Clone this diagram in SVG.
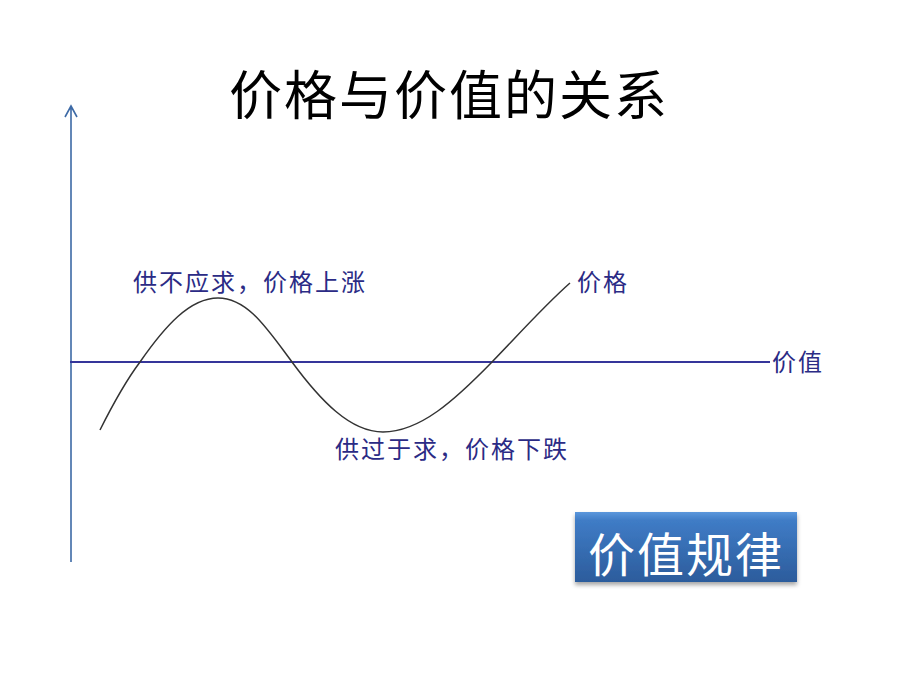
<svg xmlns="http://www.w3.org/2000/svg" width="900" height="675" viewBox="0 0 900 675">
<defs>
<style>
.lbl{font-family:"Noto Sans CJK SC","Noto Sans",sans-serif;fill:#2b2b85;font-size:24px;letter-spacing:2px}
.ttl{font-family:"Noto Sans CJK SC",sans-serif;fill:#000;font-size:53px;letter-spacing:2px}
.btn{font-family:"Noto Sans CJK SC",sans-serif;fill:#fff;font-size:47px;letter-spacing:2px}
</style>
<linearGradient id="bg" x1="0" y1="0" x2="0" y2="1">
<stop offset="0" stop-color="#5b97dc"/>
<stop offset="0.12" stop-color="#3f7cc6"/>
<stop offset="1" stop-color="#2c5c9c"/>
</linearGradient>
<filter id="sh" x="-10%" y="-10%" width="120%" height="130%">
<feDropShadow dx="0" dy="3" stdDeviation="2" flood-color="#000" flood-opacity="0.35"/>
</filter>
</defs>
<rect width="900" height="675" fill="#fff"/>
<g id="title"><text class="ttl" x="449" y="115" text-anchor="middle">价格与价值的关系</text></g>
<g id="connectors">
<path d="M71,562 V106 M65,117 L71,106 L77,117" fill="none" stroke="#3d6aa6" stroke-width="1.6"/>
<line x1="70" y1="362" x2="770" y2="362" stroke="#35359a" stroke-width="2"/>
<path d="M100,430 C115,400 125,382 140,362 C165,326 190,298 218,298 C248,298 268,330 292,362 C320,400 350,432 383,432 C420,432 455,400 492,362 C520,333 545,305 570,283" fill="none" stroke="#333" stroke-width="1.5"/>
</g>
<g id="label-rise"><text class="lbl" x="133" y="291">供不应求，价格上涨</text></g>
<g id="label-price"><text class="lbl" x="577" y="291">价格</text></g>
<g id="label-value"><text class="lbl" x="772" y="371">价值</text></g>
<g id="label-fall"><text class="lbl" x="335" y="458">供过于求，价格下跌</text></g>
<g id="button">
<rect x="575" y="512" width="222" height="70" fill="url(#bg)" filter="url(#sh)"/>
<text class="btn" x="686" y="572" text-anchor="middle">价值规律</text>
</g>
</svg>
